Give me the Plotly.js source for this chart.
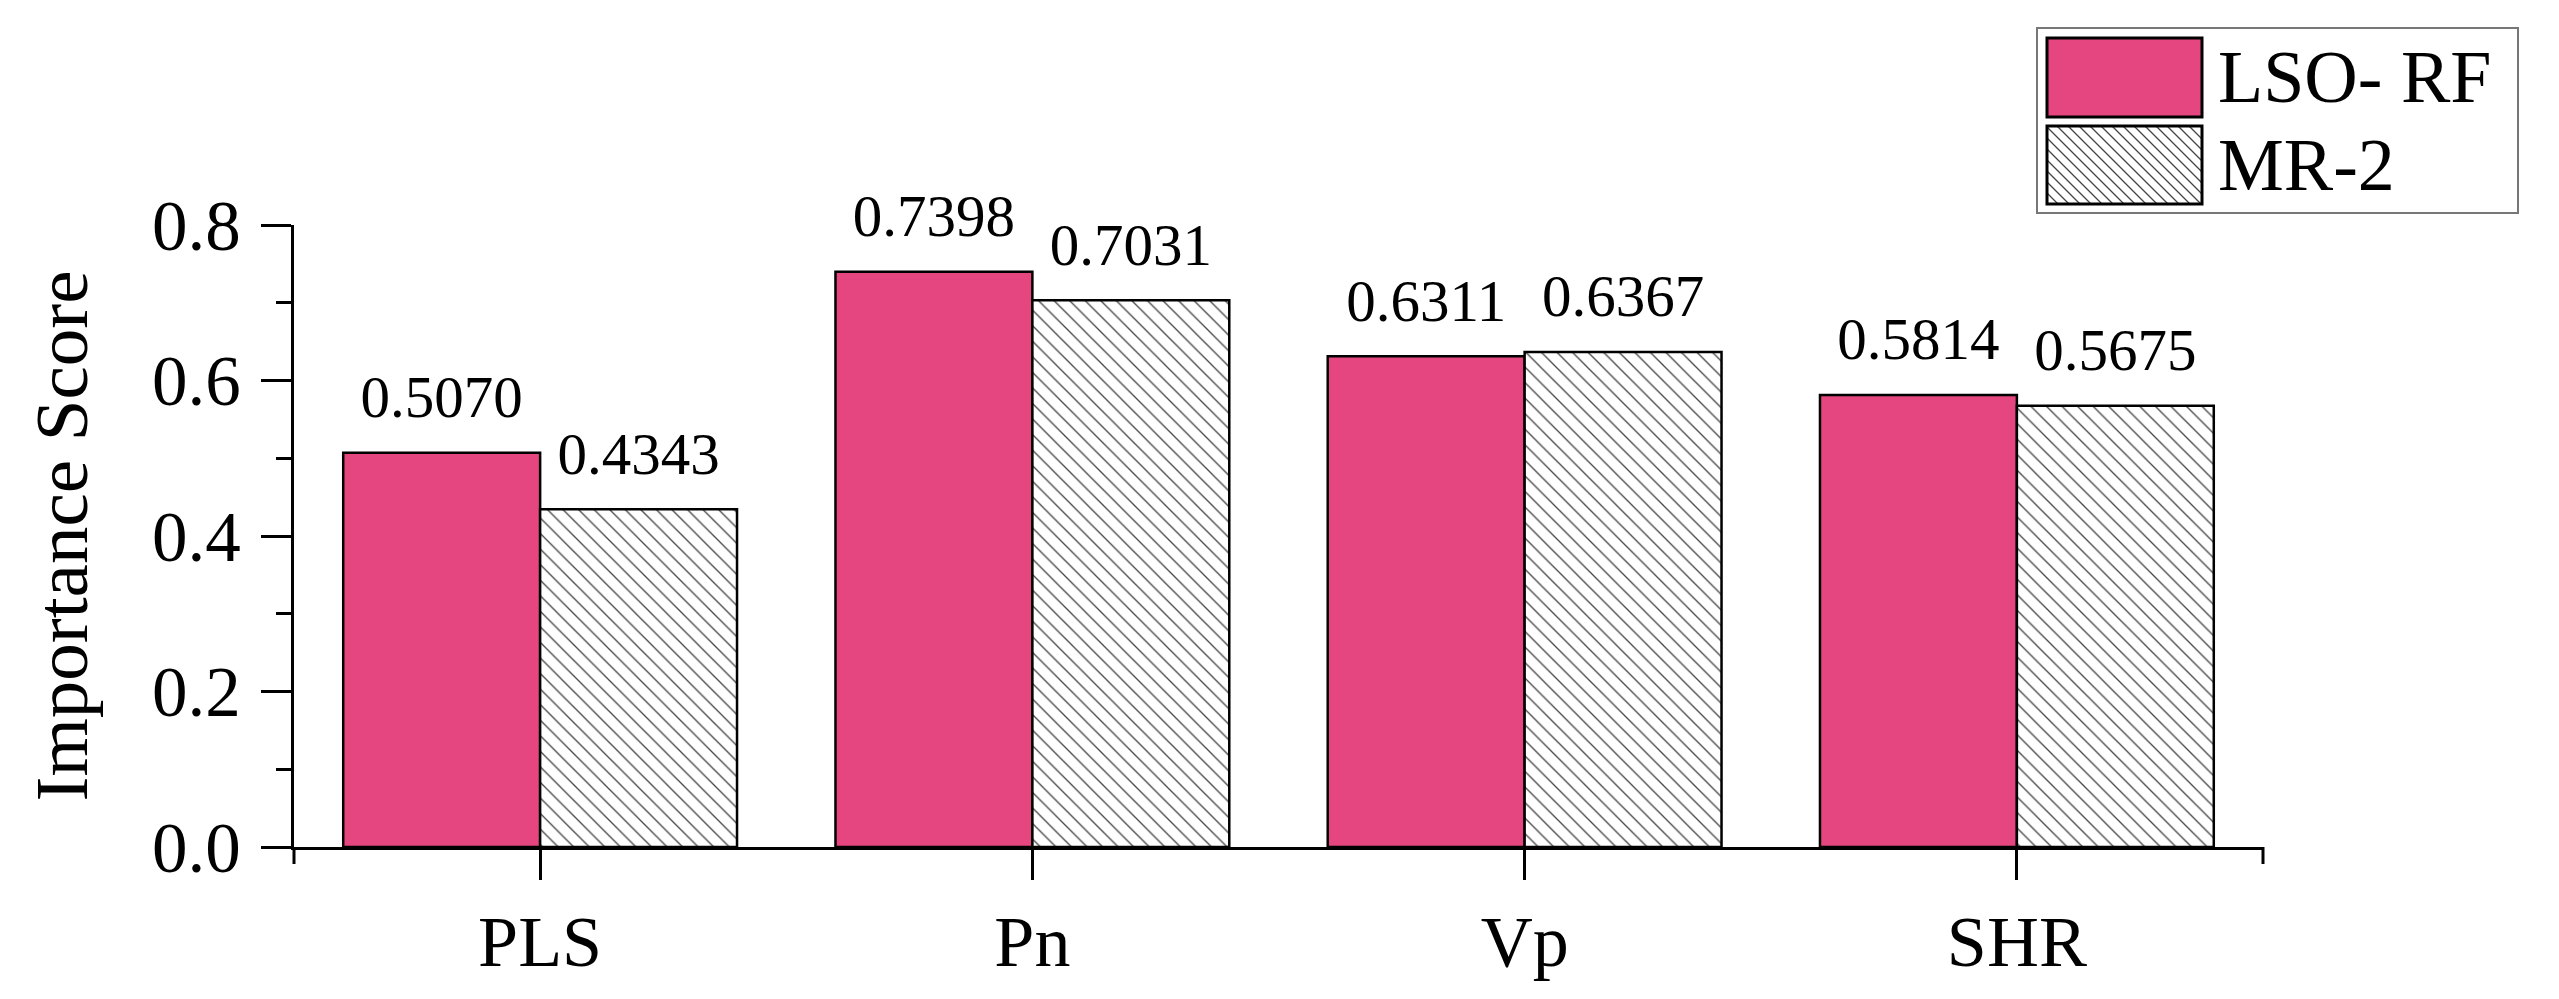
<!DOCTYPE html>
<html>
<head>
<meta charset="utf-8">
<script src="https://cdn.plot.ly/plotly-3.0.1.min.js"></script>
<style>
  body { margin: 0; background: white; }
  #chart { width: 2559px; height: 999px; }
</style>
</head>
<body>
<div id="chart"></div>
<script>
// data
var categories = ["PLS", "Pn", "Vp", "SHR"];
var lsoRf = [0.5070, 0.7398, 0.6311, 0.5814];
var mr2 = [0.4343, 0.7031, 0.6367, 0.5675];
var seriesNames = ["LSO- RF", "MR-2"];
var yTicks = [0, 0.2, 0.4, 0.6, 0.8];

var pink = "#E5467F";
var serif = "Liberation Serif, Times New Roman, serif";

// plot area in pixels, used only for the hand made legend box
var plotL = 294, plotR = 2263, plotT = 225, plotB = 847;
function px(X) { return (X - plotL) / (plotR - plotL); }
function py(Y) { return (plotB - Y) / (plotB - plotT); }

var lsoBar = {
    x: categories,
    y: lsoRf,
    type: 'bar',
    name: seriesNames[0],
    offsetgroup: 'a',
    marker: {color: pink, line: {color: 'black', width: 2.5}},
    hoverinfo: 'skip'
};
var mrBar = {
    x: categories,
    y: mr2,
    type: 'bar',
    name: seriesNames[1],
    offsetgroup: 'b',
    marker: {
        color: 'white',
        pattern: {shape: '\\', size: 11, solidity: 0.12, fgcolor: '#444', bgcolor: 'white'},
        line: {color: 'black', width: 2.5}
    },
    hoverinfo: 'skip'
};

// value labels above the bars
function labelTrace(vals, group) {
    return {
        x: categories,
        y: vals,
        type: 'scatter',
        mode: 'markers+text',
        offsetgroup: group,
        text: vals.map(v => v.toFixed(4)),
        textposition: 'top center',
        textfont: {family: serif, size: 59, color: 'black'},
        marker: {size: 32, opacity: 0},
        cliponaxis: false,
        showlegend: false,
        hoverinfo: 'skip'
    };
}

var data = [lsoBar, mrBar, labelTrace(lsoRf, 'a'), labelTrace(mr2, 'b')];

// legend drawn with shapes so the swatches can be large
var swL = 2047, swR = 2202;
var sw1 = [38, 117], sw2 = [126, 204];
var hatch = '';
var H = sw2[1] - sw2[0];
for (var s = swL - H; s < swR; s += 11) {
    var t0 = Math.max(0, swL - s), t1 = Math.min(H, swR - s);
    if (t1 <= t0) continue;
    hatch += 'M' + px(s + t0) + ',' + py(sw2[0] + t0) + 'L' + px(s + t1) + ',' + py(sw2[0] + t1);
}

var shapes = [
    {type: 'rect', xref: 'paper', yref: 'paper', x0: px(2037), x1: px(2518), y0: py(213), y1: py(28),
     line: {color: '#777', width: 2}, fillcolor: 'white'},
    {type: 'rect', xref: 'paper', yref: 'paper', x0: px(swL), x1: px(swR), y0: py(sw1[1]), y1: py(sw1[0]),
     line: {color: 'black', width: 3}, fillcolor: pink},
    {type: 'path', xref: 'paper', yref: 'paper', path: hatch, line: {color: '#444', width: 1.3}},
    {type: 'rect', xref: 'paper', yref: 'paper', x0: px(swL), x1: px(swR), y0: py(sw2[1]), y1: py(sw2[0]),
     line: {color: 'black', width: 3}},
    // short end ticks of the x axis
    {type: 'line', xref: 'paper', yref: 'paper', x0: 0, x1: 0, y0: 0, y1: py(864), line: {color: 'black', width: 3}},
    {type: 'line', xref: 'paper', yref: 'paper', x0: 1, x1: 1, y0: 0, y1: py(864), line: {color: 'black', width: 3}}
];

var annotations = [
    {xref: 'paper', yref: 'paper', x: px(2216), y: py(77), xanchor: 'left', yanchor: 'middle',
     text: seriesNames[0], showarrow: false, font: {family: serif, size: 74, color: 'black'}},
    {xref: 'paper', yref: 'paper', x: px(2216), y: py(165), xanchor: 'left', yanchor: 'middle',
     text: seriesNames[1], showarrow: false, font: {family: serif, size: 74, color: 'black'}}
];

var layout = {
    width: 2559,
    height: 999,
    margin: {l: plotL, r: 2559 - plotR, t: plotT, b: 999 - plotB},
    paper_bgcolor: 'white',
    plot_bgcolor: 'white',
    barmode: 'group',
    bargap: 0.2,
    scattermode: 'group',
    scattergap: 0.2,
    showlegend: false,
    font: {family: serif, color: 'black'},
    xaxis: {
        type: 'category',
        range: [-0.5, 3.5],
        showline: true, linecolor: 'black', linewidth: 3,
        ticks: 'outside', ticklen: 30, tickwidth: 3, tickcolor: 'black',
        ticklabelstandoff: 0,
        tickfont: {family: serif, size: 72, color: 'black'},
        showgrid: false, zeroline: false
    },
    yaxis: {
        range: [0, 0.8],
        tickmode: 'array',
        tickvals: yTicks,
        ticktext: yTicks.map(v => v.toFixed(1)),
        showline: true, linecolor: 'black', linewidth: 3,
        ticks: 'outside', ticklen: 30, tickwidth: 3, tickcolor: 'black',
        ticklabelstandoff: 6,
        minor: {ticks: 'outside', ticklen: 15, tickwidth: 3, tickcolor: 'black', tick0: 0, dtick: 0.1},
        tickfont: {family: serif, size: 71, color: 'black'},
        title: {text: 'Importance Score', font: {family: serif, size: 75, color: 'black'}, standoff: 40},
        showgrid: false, zeroline: false
    },
    shapes: shapes,
    annotations: annotations
};

Plotly.newPlot('chart', data, layout, {displayModeBar: false, staticPlot: true});
</script>
</body>
</html>
